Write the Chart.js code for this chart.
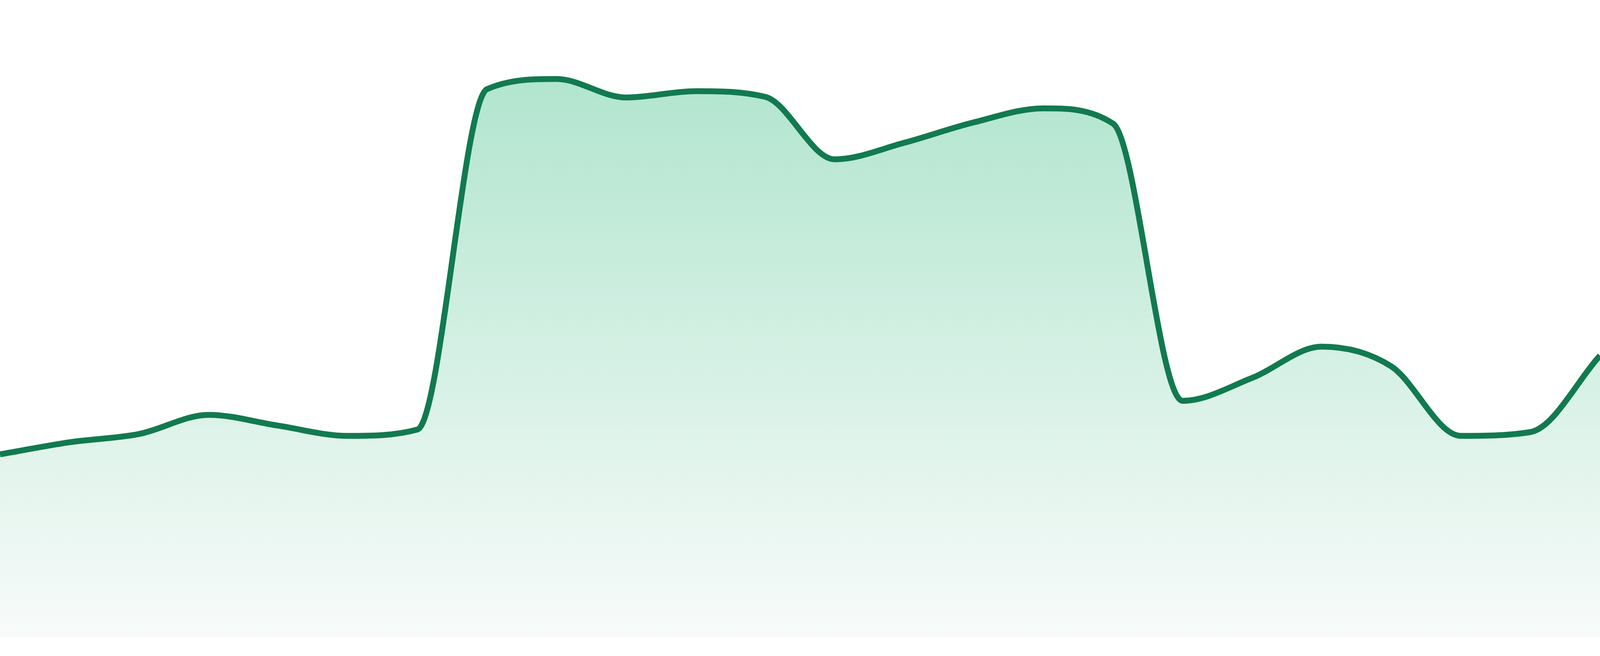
<!DOCTYPE html>
<html>
<head>
<meta charset="utf-8">
<title>Chart</title>
<script src="https://cdn.jsdelivr.net/npm/chart.js@4"></script>
<style>
    html, body { margin: 0; padding: 0; background: #fff; overflow: hidden; }
    #ChartWrap { width: 100vw; height: 100vh; position: relative; }
</style>
</head>
<body>
<div id="ChartWrap"><canvas id="ChartContainer"></canvas></div>
<script>
// values, 24 evenly spaced points
var labels = ['1', '2', '3', '4', '5', '6', '7', '8', '9', '10', '11', '12',
    '13', '14', '15', '16', '17', '18', '19', '20', '21', '22', '23', '24'];
var values = [28.7, 30.6, 31.9, 34.9, 33.2, 31.6, 32.6, 86.0, 87.6, 84.7, 85.7, 84.8,
    75.0, 77.6, 80.8, 83.0, 80.6, 37.1, 40.7, 45.6, 42.5, 31.6, 32.2, 44.2];
var yMin = 0;
var yMax = 100;

function fillGradient(context) {
    var chart = context.chart;
    var area = chart.chartArea;
    if (!area) {
        return '#d8f0e5';
    }
    var g = chart.ctx.createLinearGradient(0, area.top, 0, area.bottom);
    g.addColorStop(0, '#a7e2c8');
    g.addColorStop(1, '#f8fbfa');
    return g;
}

new Chart(document.getElementById('ChartContainer').getContext('2d'), {
    type: 'line',
    data: {
        labels: labels,
        datasets: [{
            data: values,
            borderColor: '#127a50',
            borderWidth: 15,
            backgroundColor: fillGradient,
            fill: 'origin',
            pointRadius: 0,
            cubicInterpolationMode: 'monotone'
        }]
    },
    options: {
        responsive: true,
        maintainAspectRatio: false,
        animation: false,
        layout: {
            padding: { top: 0, left: 0, right: 0, bottom: 48 }
        },
        plugins: {
            legend: { display: false },
            tooltip: { enabled: false }
        },
        scales: {
            x: { display: false },
            y: { display: false, min: yMin, max: yMax }
        }
    }
});
</script>
</body>
</html>
